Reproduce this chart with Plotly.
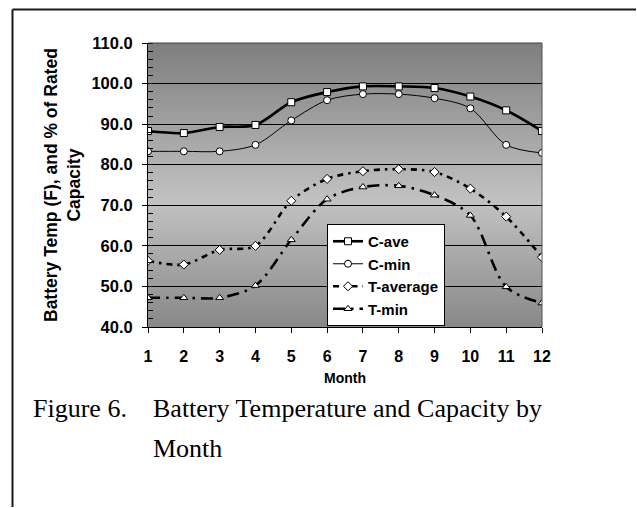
import plotly.graph_objects as go

months = list(range(1, 13))
c_ave = [88.3, 87.8, 89.3, 89.8, 95.4, 97.9, 99.3, 99.3, 98.9, 96.8, 93.4, 88.3]
c_min = [83.3, 83.3, 83.3, 84.9, 90.9, 95.9, 97.4, 97.4, 96.4, 93.9, 84.9, 82.9]
t_average = [56.3, 55.4, 59.0, 60.0, 71.1, 76.5, 78.4, 78.9, 78.2, 74.1, 67.2, 57.2]
t_min = [47.2, 47.2, 47.2, 50.2, 61.5, 71.5, 74.5, 74.8, 72.5, 67.5, 49.9, 45.9]

series_names = ["C-ave", "C-min", "T-average", "T-min"]
y_title = "Battery Temp (F), and % of Rated<br>Capacity"
x_title = "Month"
caption_num = "Figure 6."
caption_line1 = "Battery Temperature and Capacity by"
caption_line2 = "Month"

W, H = 637, 508
L, R, T, B = 148, 542, 43, 327   # plot area in pixels


def px_x(p):
    return (p - L) / (R - L)


def px_y(p):
    return (B - p) / (B - T)


SANS = "Liberation Sans, Arial, sans-serif"
SERIF = "Liberation Serif, Times New Roman, serif"

fig = go.Figure()

# Gradient background for plot area (overlapping bands)
y_lo, y_hi = 40.0, 110.0
peak_v, top_c, peak_c, bot_c = 71.0, 0x7E, 0xC2, 0x88
n_bands = 70
shapes = []
for i in range(n_bands):
    a = y_lo + (y_hi - y_lo) * i / n_bands
    b = y_lo + (y_hi - y_lo) * (i + 1) / n_bands
    m = (a + b) / 2
    if m >= peak_v:
        f = (m - peak_v) / (y_hi - peak_v)
        c = peak_c + (top_c - peak_c) * f
    else:
        f = (peak_v - m) / (peak_v - y_lo)
        c = peak_c + (bot_c - peak_c) * f
    c = int(round(c))
    shapes.append(dict(type="rect", xref="x domain", yref="y", x0=0, x1=1, y0=a,
                       y1=min(b + 0.5, y_hi),
                       fillcolor=f"rgb({c},{c},{c})", line=dict(width=0), layer="below"))

# plot-area top / right border
shapes.append(dict(type="line", xref="paper", yref="paper", x0=0, x1=1, y0=1, y1=1,
                   line=dict(color="#404040", width=1), layer="above"))
shapes.append(dict(type="line", xref="paper", yref="paper", x0=1, x1=1, y0=0, y1=1,
                   line=dict(color="#505050", width=1), layer="above"))
# outer frame: top and left edges (lower shape layer)
shapes.append(dict(type="line", xref="paper", yref="paper",
                   x0=px_x(12.5), x1=px_x(636), y0=px_y(9.5), y1=px_y(9.5),
                   line=dict(color="#1a1a1a", width=2), layer="below"))
shapes.append(dict(type="line", xref="paper", yref="paper",
                   x0=px_x(12.5), x1=px_x(12.5), y0=px_y(9.5), y1=px_y(507),
                   line=dict(color="#1a1a1a", width=2), layer="below"))

fig.add_trace(go.Scatter(
    x=months, y=c_ave, name=series_names[0], legendgroup="a", mode="lines+markers",
    line=dict(color="black", width=2.6, shape="spline", smoothing=0.9),
    marker=dict(symbol="square", size=7, color="white", line=dict(color="black", width=1))))
fig.add_trace(go.Scatter(
    x=months, y=c_min, name=series_names[1], legendgroup="b", mode="lines+markers",
    line=dict(color="black", width=1, shape="spline", smoothing=0.9),
    marker=dict(symbol="circle", size=7, color="white", line=dict(color="black", width=1))))
fig.add_trace(go.Scatter(
    x=months, y=t_average, name=series_names[2], legendgroup="c", mode="lines+markers",
    line=dict(color="black", width=2.6, shape="spline", smoothing=0.9, dash="6px,5px,2.5px,5px"),
    marker=dict(symbol="diamond", size=7, color="white", line=dict(color="black", width=1))))
fig.add_trace(go.Scatter(
    x=months, y=t_min, name=series_names[3], legendgroup="d", mode="lines+markers",
    line=dict(color="black", width=2.6, shape="spline", smoothing=0.9, dash="12px,6px,2.5px,6px"),
    marker=dict(symbol="triangle-up", size=7, color="white", line=dict(color="black", width=1))))

annotations = [
    dict(text=f"<b>{y_title}</b>", textangle=-90, xref="paper", yref="paper",
         x=px_x(62), y=px_y(185), xanchor="center", yanchor="middle", showarrow=False,
         font=dict(family=SANS, size=17.5, color="black"), align="center"),
    dict(text=f"<b>{x_title}</b>", xref="paper", yref="paper", x=0.5, y=px_y(378),
         xanchor="center", yanchor="middle", showarrow=False,
         font=dict(family=SANS, size=14, color="black")),
    dict(text=caption_num, xref="paper", yref="paper", x=px_x(31), y=px_y(408),
         xanchor="left", yanchor="middle", showarrow=False,
         font=dict(family=SERIF, size=26, color="black")),
    dict(text=caption_line1, xref="paper", yref="paper", x=px_x(151), y=px_y(408),
         xanchor="left", yanchor="middle", showarrow=False,
         font=dict(family=SERIF, size=26, color="black")),
    dict(text=caption_line2, xref="paper", yref="paper", x=px_x(151), y=px_y(448),
         xanchor="left", yanchor="middle", showarrow=False,
         font=dict(family=SERIF, size=26, color="black")),
]

fig.update_layout(
    width=W, height=H,
    margin=dict(l=L, r=W - R, t=T, b=H - B, pad=0),
    paper_bgcolor="white", plot_bgcolor="rgba(0,0,0,0)",
    shapes=shapes, annotations=annotations,
    showlegend=True,
    legend=dict(x=px_x(327), y=px_y(224), xanchor="left", yanchor="top",
                bgcolor="white", bordercolor="black", borderwidth=1,
                font=dict(family=SANS, size=15, color="black", weight="bold"),
                traceorder="grouped", tracegroupgap=0),
    xaxis=dict(range=[1, 12], tickmode="array", tickvals=months, ticktext=[str(m) for m in months],
               showgrid=False, zeroline=False, showline=True, linecolor="black", linewidth=1,
               ticks="outside", ticklen=5, tickcolor="black", ticklabelstandoff=10,
               tickfont=dict(family=SANS, size=16, color="black", weight="bold")),
    yaxis=dict(range=[40, 110], dtick=10, tick0=40, tickformat=".1f",
               showgrid=True, gridcolor="black", gridwidth=1, zeroline=False,
               showline=True, linecolor="black", linewidth=1,
               ticks="outside", ticklen=5, tickcolor="black", ticklabelstandoff=6,
               tickfont=dict(family=SANS, size=16.5, color="black", weight="bold"),
               minor=dict(dtick=2, tick0=40, ticks="inside", ticklen=5, tickcolor="black",
                          tickwidth=1, showgrid=False)),
)

fig.write_html("out.html", config={"displayModeBar": False},
               post_script="document.body.style.margin='0';")
